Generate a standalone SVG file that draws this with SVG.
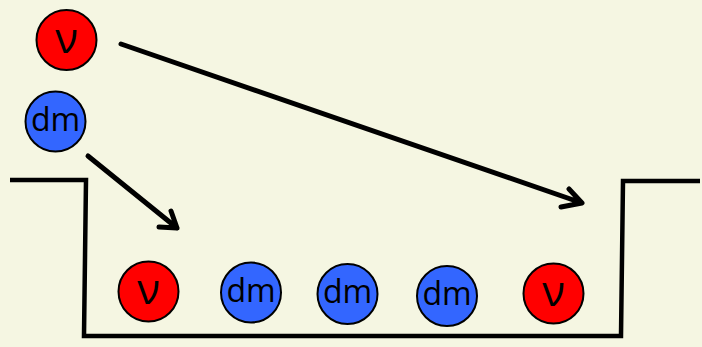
<svg xmlns="http://www.w3.org/2000/svg" width="702" height="347" viewBox="0 0 702 347">
  <defs>
    <style>
      .nu circle { fill: #ff0000; stroke: #000; stroke-width: 2; }
      .dm circle { fill: #3366ff; stroke: #000; stroke-width: 2; }
      text { font-family: "Open Sans", "Liberation Sans", sans-serif; font-size: 32px; fill: #000; text-anchor: middle; dominant-baseline: central; }
      .nu text { font-size: 42px; }
      .wall { fill: none; stroke: #000; stroke-width: 4.5; stroke-linejoin: miter; }
      .arrow { fill: none; stroke: #000; stroke-width: 5; stroke-linecap: round; stroke-linejoin: round; }
    </style>
  </defs>
  <rect width="702" height="347" fill="#f5f6e2"/>

  <!-- potential well -->
  <path class="wall" d="M10,180 H86 L84,336 H621 L623,181 H700"/>

  <!-- connectors -->
  <g id="connectors">
    <path class="arrow" d="M121,44 L582,203 M569,189 L582,203 L561,207"/>
    <path class="arrow" d="M88,156 L177,228 M171,211 L177,228 L159,227"/>
  </g>

  <g id="nu-top" class="nu"><circle cx="66.5" cy="40" r="30"/><text x="66.5" y="36">ν</text></g>
  <g id="dm-top" class="dm"><circle cx="55.5" cy="121.5" r="30"/><text x="55.5" y="118">dm</text></g>

  <g id="nu-1" class="nu"><circle cx="148.5" cy="291.5" r="30"/><text x="148.5" y="287.5">ν</text></g>
  <g id="dm-1" class="dm"><circle cx="251" cy="292.5" r="30"/><text x="251" y="289">dm</text></g>
  <g id="dm-2" class="dm"><circle cx="347.5" cy="294" r="30"/><text x="347.5" y="290.5">dm</text></g>
  <g id="dm-3" class="dm"><circle cx="447" cy="296" r="30"/><text x="447" y="292.5">dm</text></g>
  <g id="nu-2" class="nu"><circle cx="553.5" cy="293.5" r="30"/><text x="553.5" y="289.5">ν</text></g>
</svg>
